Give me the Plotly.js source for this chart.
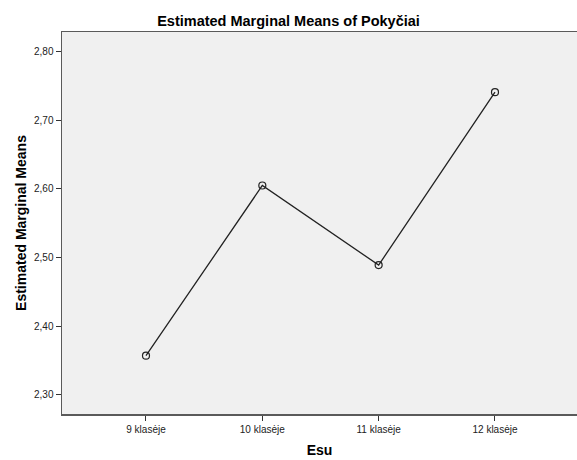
<!DOCTYPE html>
<html>
<head>
<meta charset="utf-8">
<script src="https://cdn.plot.ly/plotly-3.0.1.min.js"></script>
<style>html,body{margin:0;padding:0;background:#fff;}#chart{width:577px;height:460px;}</style>
</head>
<body>
<div id="chart"></div>
<script>
const categories = ["9 klasėje", "10 klasėje", "11 klasėje", "12 klasėje"];
const means = [2.357, 2.605, 2.489, 2.741];
const yTickVals = [2.30, 2.40, 2.50, 2.60, 2.70, 2.80];

const font = "'Liberation Sans', Arial, sans-serif";

Plotly.newPlot('chart', [{
  x: categories,
  y: means,
  type: 'scatter',
  mode: 'lines+markers',
  line: {color: '#222222', width: 1.3},
  marker: {symbol: 'circle-open', size: 7, color: '#222222', line: {width: 1.2, color: '#222222'}},
  hoverinfo: 'skip'
}], {
  width: 577, height: 460,
  margin: {l: 62, r: 0, t: 32, b: 46},
  paper_bgcolor: '#ffffff',
  plot_bgcolor: '#F0F0F0',
  separators: ',.',
  showlegend: false,
  title: {text: 'Estimated Marginal Means of Pokyčiai', font: {family: font, size: 14.5, color: '#000', weight: 'bold'}, x: 0.5, xanchor: 'center', y: 1 - 21/460, yanchor: 'middle'},
  xaxis: {
    type: 'category',
    range: [-0.722, 3.705],
    showgrid: false, zeroline: false,
    showline: true, mirror: true, linecolor: '#5a5a5a', linewidth: 1.5,
    ticks: 'outside', ticklen: 5, tickwidth: 1, tickcolor: '#333',
    tickfont: {family: font, size: 10, color: '#222'},
    title: {text: 'Esu', font: {family: font, size: 14, color: '#000', weight: 'bold'}, standoff: 11}
  },
  yaxis: {
    range: [2.272, 2.8287],
    tickvals: yTickVals,
    tickformat: '.2f',
    showgrid: false, zeroline: false,
    showline: true, linecolor: '#5a5a5a', linewidth: 1.5,
    ticks: 'outside', ticklen: 5, tickwidth: 1, tickcolor: '#333',
    tickfont: {family: font, size: 10, color: '#222'},
    title: {text: 'Estimated Marginal Means', font: {family: font, size: 14, color: '#000', weight: 'bold'}, standoff: 4}
  }
}, {displayModeBar: false, staticPlot: true});
</script>
</body>
</html>
